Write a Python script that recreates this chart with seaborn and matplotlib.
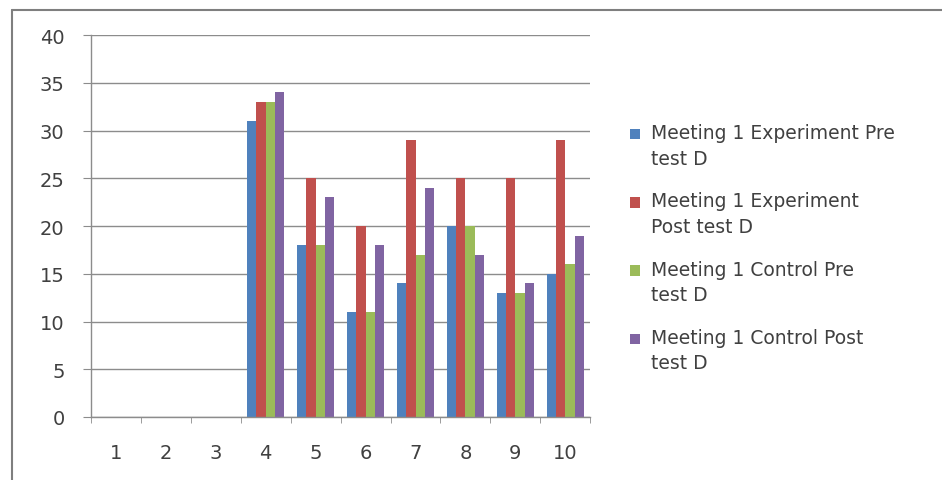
import numpy as np
import pandas as pd
import matplotlib.pyplot as plt
from matplotlib.lines import Line2D
from matplotlib.patches import Rectangle
from matplotlib.legend_handler import HandlerPatch
import seaborn as sns

# Data
categories = ["1", "2", "3", "4", "5", "6", "7", "8", "9", "10"]
exp_pre = [np.nan, np.nan, np.nan, 31, 18, 11, 14, 20, 13, 15]
exp_post = [np.nan, np.nan, np.nan, 33, 25, 20, 29, 25, 25, 29]
ctrl_pre = [np.nan, np.nan, np.nan, 33, 18, 11, 17, 20, 13, 16]
ctrl_post = [np.nan, np.nan, np.nan, 34, 23, 18, 24, 17, 14, 19]
series_names = [
    "Meeting 1 Experiment Pre\ntest D",
    "Meeting 1 Experiment\nPost test D",
    "Meeting 1 Control Pre\ntest D",
    "Meeting 1 Control Post\ntest D",
]
colors = ["#4F81BD", "#C0504D", "#9BBB59", "#8064A2"]

frames = []
for name, vals in zip(series_names, [exp_pre, exp_post, ctrl_pre, ctrl_post]):
    frames.append(pd.DataFrame({"Meeting": categories, "Score": vals, "Series": name}))
df = pd.concat(frames, ignore_index=True)

sns.set_style("white")
plt.rcParams['font.family'] = ['DejaVu Sans']

fig = plt.figure(figsize=(9.42, 4.81), dpi=100)
ax = fig.add_axes([0.0966, 0.131, 0.530, 0.794])

sns.barplot(data=df, x="Meeting", y="Score", hue="Series", order=categories,
            hue_order=series_names, palette=colors, width=0.75,
            saturation=1, errorbar=None, linewidth=0, ax=ax)

ax.set_ylim(0, 40)
ax.set_xlim(-0.5, 9.5)
ax.set_yticks(range(0, 41, 5))
ax.yaxis.grid(True, color="#8c8c8c", linewidth=1)
ax.set_axisbelow(True)
ax.set_xlabel("")
ax.set_ylabel("")

for side in ["top", "right"]:
    ax.spines[side].set_visible(False)
for side in ["left", "bottom"]:
    ax.spines[side].set_color("#8c8c8c")
    ax.spines[side].set_linewidth(1)

ax.set_xticks(np.arange(-0.5, 10, 1), minor=True)
ax.tick_params(axis="x", which="major", length=0, pad=19, labelsize=14, colors="#404040")
ax.tick_params(axis="x", which="minor", length=4, color="#8c8c8c", bottom=True)
ax.tick_params(axis="y", length=6, color="#8c8c8c", pad=13, labelsize=14,
               labelcolor="#404040", left=True)


# legend square sits next to the first line of each two-line label
def top_square(legend, orig_handle, xdescent, ydescent, width, height, fontsize):
    s = 0.55 * fontsize
    return Rectangle((-xdescent, -ydescent + height - s + 0.1 * fontsize), s, s)


handles, labels = ax.get_legend_handles_labels()
leg = ax.legend(handles, labels, loc="center left", bbox_to_anchor=(1.045, 0.443),
                frameon=False, fontsize=13.5, handlelength=0.55, handleheight=2.3,
                handletextpad=0.6, labelspacing=1.25,
                handler_map={h: HandlerPatch(patch_func=top_square) for h in handles})
for t in leg.get_texts():
    t.set_color("#404040")
    t.set_linespacing(1.45)

# outer chart border (top and left)
fig.add_artist(Line2D([0.0128, 1.0], [0.978, 0.978], color="#7f7f7f", linewidth=1.5))
fig.add_artist(Line2D([0.0128, 0.0128], [0.0, 0.978], color="#7f7f7f", linewidth=1.5))

plt.savefig("out.png", dpi=100)
